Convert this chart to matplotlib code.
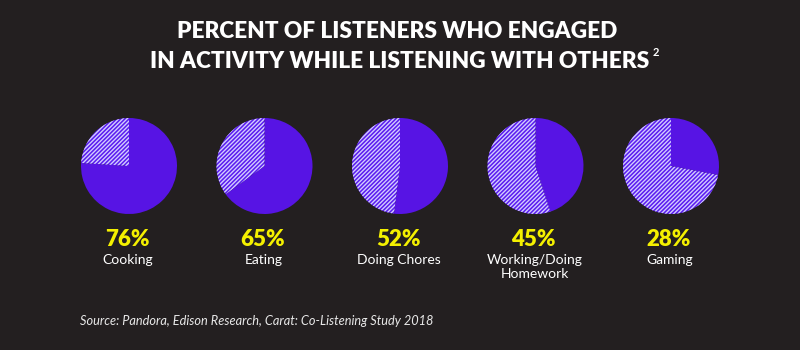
import matplotlib
matplotlib.use('Agg')
import matplotlib.pyplot as plt

activities = ['Cooking', 'Eating', 'Doing Chores', 'Working/Doing\nHomework', 'Gaming']
percents = [76, 65, 52, 45, 28]

title_lines = ['PERCENT OF LISTENERS WHO ENGAGED', 'IN ACTIVITY WHILE LISTENING WITH OTHERS']
source = 'Source: Pandora, Edison Research, Carat: Co-Listening Study 2018'

BG = '#231f20'
SOLID = '#5714e4'
HATCH_FACE = '#5a1cf0'
HATCH_LINE = '#d2ccff'
YELLOW = '#f4f000'

plt.rcParams['hatch.linewidth'] = 1.0

fig = plt.figure(figsize=(8, 3.5), dpi=100, facecolor=BG)
ax = fig.add_axes([0, 0, 1, 1])
ax.set_facecolor(BG)

# title
ax.text(397, 350 - 32, title_lines[0], ha='center', va='center', color='white',
        fontsize=16.3, fontweight='heavy', family='Lato')
ax.text(400, 350 - 61, title_lines[1], ha='center', va='center', color='white',
        fontsize=16.3, fontweight='heavy', family='Lato')
ax.text(656, 350 - 53, '2', ha='center', va='center', color='white',
        fontsize=8, fontweight='bold', family='Lato')

x0, step, cy, r = 129, 135.5, 350 - 166, 48
for i, (name, p) in enumerate(zip(activities, percents)):
    cx = x0 + i * step
    wedges, _ = ax.pie([p, 100 - p], center=(cx, cy), radius=r, startangle=90,
                       counterclock=False, colors=[SOLID, HATCH_FACE],
                       wedgeprops=dict(linewidth=0), frame=True)
    wedges[1].set_hatch('////////')
    wedges[1].set_edgecolor(HATCH_LINE)
    ax.text(cx - 2, 350 - 240, f'{p}%', ha='center', va='center', color=YELLOW,
            fontsize=16, fontweight='heavy', family='Lato')
    ax.text(cx - 1, 350 - 254, name, ha='center', va='top', color='white',
            fontsize=10, family='Lato', linespacing=1.25)

ax.set_xlim(0, 800)
ax.set_ylim(0, 350)
ax.set_aspect('equal')
ax.axis('off')

ax.text(80, 350 - 321, source, ha='left', va='center', color='#e8e8e8',
        fontsize=9.2, style='italic', family='Lato')

fig.savefig('out.png', dpi=100, facecolor=BG)
